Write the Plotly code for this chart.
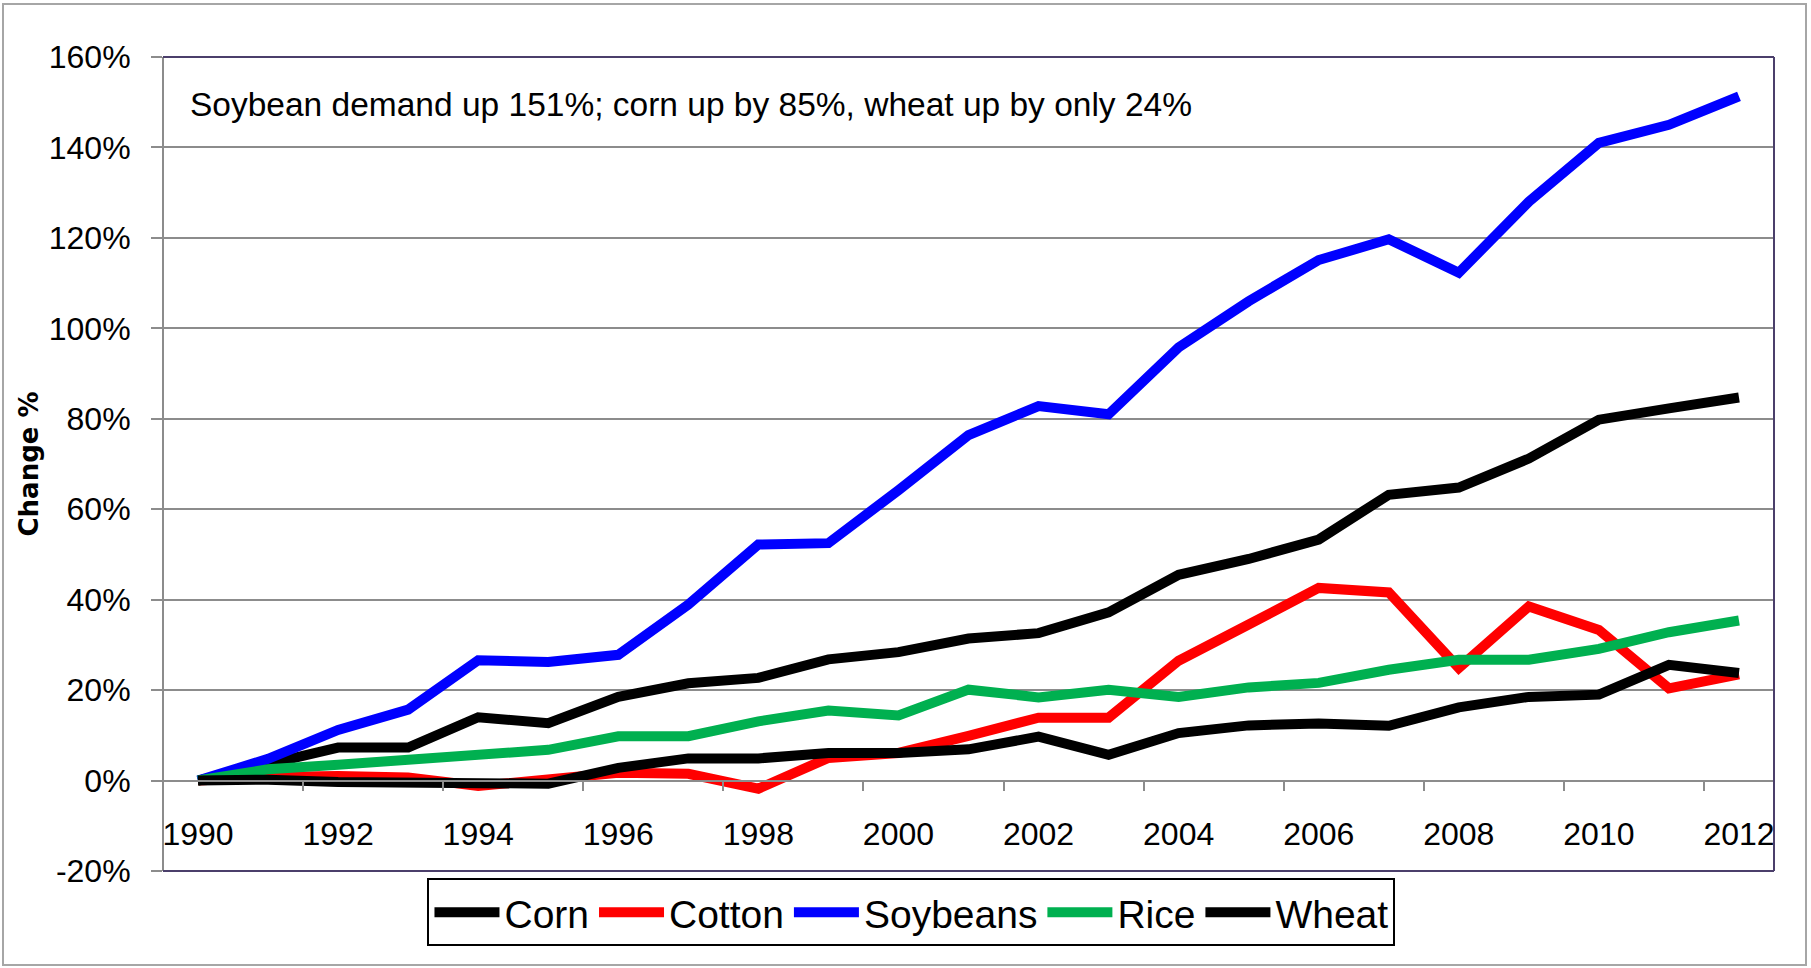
import plotly.graph_objects as go

years = list(range(1990, 2013))
corn = [0, 3.5, 7.3, 7.3, 14.0, 12.7, 18.5, 21.5, 22.7, 26.8, 28.4, 31.4, 32.6, 37.2,
        45.5, 49.0, 53.3, 63.2, 64.8, 71.2, 79.8, 82.3, 84.7]
cotton = [0, 0.8, 1.0, 0.7, -1.2, 0.0, 1.7, 1.5, -1.8, 5.0, 6.1, 9.9, 13.9, 13.9,
          26.5, 34.5, 42.6, 41.6, 24.9, 38.5, 33.3, 20.4, 23.5]
soybeans = [0, 4.8, 11.2, 15.7, 26.6, 26.2, 27.8, 38.9, 52.2, 52.5, 64.2, 76.4, 82.8, 81.0,
            95.8, 106.0, 115.1, 119.7, 112.3, 128.0, 141.0, 145.0, 151.3]
rice = [0, 2.5, 3.5, 4.6, 5.7, 6.8, 9.8, 9.8, 13.1, 15.5, 14.4, 20.1, 18.4, 20.1,
        18.5, 20.6, 21.6, 24.5, 26.7, 26.7, 29.1, 32.8, 35.4]
wheat = [0, 0.2, -0.3, -0.3, -0.7, -0.7, 2.8, 4.9, 4.9, 6.1, 6.1, 6.9, 9.7, 5.7,
         10.5, 12.2, 12.6, 12.1, 16.2, 18.5, 19.0, 25.6, 23.8]

series_names = ["Corn", "Cotton", "Soybeans", "Rice", "Wheat"]
series_values = [corn, cotton, soybeans, rice, wheat]
series_colors = ["#000000", "#FF0000", "#0000FF", "#00B050", "#000000"]

x_label_years = list(range(1990, 2013, 2))
x_minor_ticks = [y + 1.5 for y in range(1990, 2012, 2)]
y_ticks = list(range(-20, 161, 20))
y_tick_text = [f"{v}%" for v in y_ticks]

FONT = "Liberation Sans, Arial, sans-serif"
GRID = "#8C8C8C"
BORDER = "#4B3F6B"

fig = go.Figure()
for name, vals, col in zip(series_names, series_values, series_colors):
    fig.add_trace(go.Scatter(x=years, y=vals, name=name, mode="lines",
                             line=dict(color=col, width=10)))

fig.update_layout(
    width=1811, height=968,
    margin=dict(l=163, r=37, t=57, b=97),
    paper_bgcolor="white", plot_bgcolor="white",
    showlegend=True,
    legend=dict(orientation="h", x=0.4646, xanchor="center", y=-0.0092, yanchor="top",
                bordercolor="black", borderwidth=2, bgcolor="white",
                font=dict(family=FONT, size=39, color="black"),
                itemwidth=65, tracegroupgap=0),
    xaxis=dict(range=[1989.5, 2012.5], anchor="free", position=20 / 180,
               tickmode="array", tickvals=x_label_years,
               ticktext=[str(y) for y in x_label_years],
               ticks="", showgrid=False, zeroline=False,
               showline=True, linecolor=GRID, linewidth=2,
               ticklabelstandoff=25,
               tickfont=dict(family=FONT, size=32, color="black"),
               minor=dict(tickmode="array", tickvals=x_minor_ticks, ticks="outside",
                          ticklen=9, tickwidth=2, tickcolor=GRID, showgrid=False)),
    yaxis=dict(range=[-20, 160], anchor="free", position=0,
               tickmode="array", tickvals=y_ticks, ticktext=y_tick_text,
               ticks="outside", ticklen=11, tickwidth=2, tickcolor=GRID,
               showgrid=True, gridcolor=GRID, gridwidth=2, zeroline=False,
               showline=True, linecolor=GRID, linewidth=2,
               ticklabelstandoff=14,
               tickfont=dict(family=FONT, size=32, color="black"),
               title=dict(text="Change %", standoff=2,
                          font=dict(family="DejaVu Sans", size=26, color="black", weight="bold"))),
)

# plot-area border (top, right, bottom)
for x0, y0, x1, y1 in [(0, 1, 1, 1), (1, 0, 1, 1), (0, 0, 1, 0)]:
    fig.add_shape(type="line", xref="x domain", yref="y domain", x0=x0, y0=y0, x1=x1, y1=y1,
                  line=dict(color=BORDER, width=2), layer="above")

# outer chart border
fig.add_shape(type="rect", xref="paper", yref="paper",
              x0=(3 - 163) / 1611, x1=(1806 - 163) / 1611,
              y0=(871 - 965) / 814, y1=(871 - 4) / 814,
              line=dict(color="#A6A6A6", width=2), layer="below")

fig.add_annotation(text="Soybean demand up 151%; corn up by 85%, wheat up by only 24%",
                   xref="paper", yref="paper", x=(188 - 163) / 1611, y=(871 - 104) / 814,
                   xanchor="left", yanchor="middle", showarrow=False,
                   font=dict(family=FONT, size=33.5, color="black"))

fig.write_html("out.html", config={"displayModeBar": False},
               post_script="document.body.style.margin='0';")
